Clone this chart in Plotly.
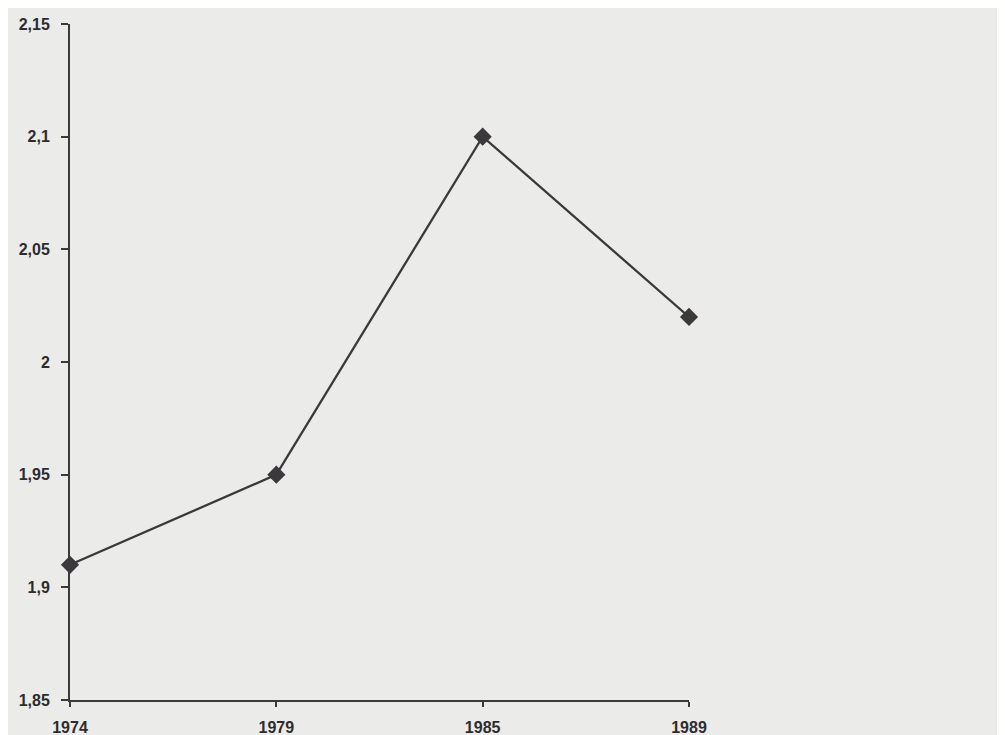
import plotly.graph_objects as go

years = ["1974", "1979", "1985", "1989"]
values = [1.91, 1.95, 2.10, 2.02]
y_ticks = [1.85, 1.90, 1.95, 2.00, 2.05, 2.10, 2.15]

ink = "#3b393b"
paper = "#ebebea"
font = dict(family="Liberation Sans, Arial, sans-serif", size=16, color="#2e2c2e", weight="bold")

x_idx = list(range(len(years)))

fig = go.Figure()
fig.add_trace(go.Scatter(
    x=x_idx, y=values, mode="lines+markers",
    line=dict(color=ink, width=2.3),
    marker=dict(symbol="diamond", size=14, color=ink),
    cliponaxis=False, showlegend=False,
))

fig.update_layout(
    width=1005, height=735,
    margin=dict(l=62, r=324, t=16, b=43),
    paper_bgcolor=paper, plot_bgcolor=paper,
    separators=", ",
    xaxis=dict(
        range=[0, 3], tickmode="array", tickvals=x_idx, ticktext=years,
        showline=True, linecolor=ink, linewidth=2,
        ticks="outside", ticklen=5, tickwidth=2, tickcolor=ink,
        ticklabelstandoff=7, automargin=False,
        showgrid=False, zeroline=False, tickfont=font,
    ),
    yaxis=dict(
        range=[1.85, 2.15], tickmode="array", tickvals=y_ticks,
        ticktext=[("%g" % v).replace(".", ",") for v in y_ticks],
        showline=True, linecolor=ink, linewidth=2,
        ticks="outside", ticklen=7, tickwidth=2, tickcolor=ink,
        ticklabelstandoff=8, automargin=False,
        showgrid=False, zeroline=False, tickfont=font,
    ),
)

fig.write_html("out.html")
